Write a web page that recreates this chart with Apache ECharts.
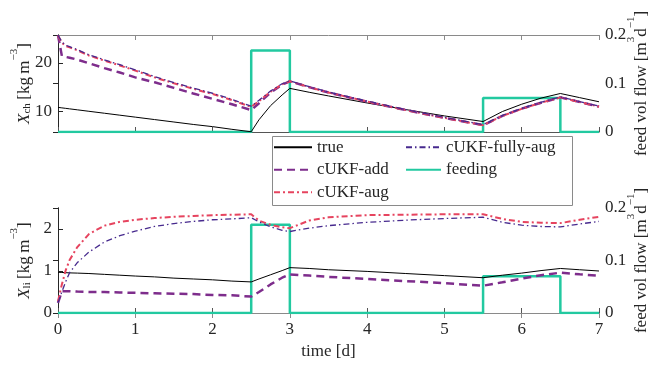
<!DOCTYPE html>
<html>
<head>
<meta charset="utf-8">
<script src="https://cdn.jsdelivr.net/npm/echarts@6/dist/echarts.min.js"></script>
<style>
  html, body { margin: 0; padding: 0; background: #fff; }
  #chart { width: 648px; height: 368px; }
</style>
</head>
<body>
<div id="chart"></div>
<script>
// time grid [d]
const T = [0, 0.05, 0.1, 0.15, 0.25, 0.4, 0.6, 0.8, 1, 1.25, 1.5, 1.75, 2, 2.25, 2.5,
  2.6, 2.75, 2.9, 3, 3.25, 3.5, 4, 4.5, 5, 5.5, 5.75, 6, 6.25, 6.5, 6.75, 7];

// X_ch [kg m^-3]
const chTrue = [10.85, 10.75, 10.65, 10.55, 10.35, 10.05, 9.65, 9.25, 8.85, 8.35, 7.85, 7.35, 6.9, 6.35, 5.85,
  8.3, 11.2, 13.4, 14.75, 13.95, 13.2, 11.75, 10.4, 9.1, 7.95, 10.0, 11.5, 12.75, 13.7, 12.85, 12.0];
const chAdd = [25.65, 21.4, 21.2, 21.05, 20.65, 19.9, 18.9, 18.0, 17.0, 16.0, 14.85, 13.7, 12.6, 11.5, 10.3,
  11.7, 13.9, 15.5, 16.2, 15.0, 13.9, 12.0, 10.3, 8.7, 7.2, 9.1, 10.6, 11.8, 12.9, 11.95, 11.0];
const chAug = [25.6, 24.1, 23.45, 23.15, 22.55, 21.5, 20.45, 19.45, 18.4, 17.0, 15.8, 14.65, 13.6, 12.35, 10.95,
  12.15, 14.05, 15.6, 16.2, 15.0, 13.9, 12.05, 10.3, 8.7, 7.2, 9.1, 10.55, 11.8, 12.9, 11.95, 11.0];
const chFull = [25.65, 24.3, 23.6, 23.3, 22.7, 21.65, 20.6, 19.6, 18.55, 17.15, 15.95, 14.8, 13.75, 12.5, 11.1,
  12.3, 14.2, 15.7, 16.3, 15.1, 14.0, 12.15, 10.4, 8.8, 7.3, 9.2, 10.65, 11.9, 13.0, 12.05, 11.1];

// X_li [kg m^-3]
const liTrue = [0.97, 0.965, 0.96, 0.955, 0.95, 0.94, 0.92, 0.9, 0.88, 0.86, 0.83, 0.81, 0.79, 0.76, 0.74,
  0.81, 0.91, 1.01, 1.08, 1.06, 1.03, 0.99, 0.94, 0.89, 0.84, 0.9, 0.95, 1.01, 1.06, 1.03, 1.0];
const liAdd = [0.24, 0.52, 0.52, 0.52, 0.51, 0.5, 0.5, 0.49, 0.48, 0.47, 0.46, 0.45, 0.43, 0.42, 0.39,
  0.5, 0.68, 0.84, 0.92, 0.89, 0.86, 0.81, 0.76, 0.71, 0.65, 0.73, 0.82, 0.9, 0.96, 0.92, 0.89];
const liAug = [0.28, 0.68, 1.02, 1.26, 1.57, 1.88, 2.08, 2.17, 2.22, 2.26, 2.29, 2.31, 2.33, 2.34, 2.35,
  2.2, 2.1, 2.04, 2.02, 2.2, 2.28, 2.33, 2.34, 2.35, 2.35, 2.24, 2.17, 2.15, 2.14, 2.22, 2.29];
const liFull = [0.25, 0.5, 0.75, 0.96, 1.2, 1.45, 1.69, 1.84, 1.95, 2.06, 2.13, 2.18, 2.22, 2.24, 2.27,
  2.17, 2.05, 1.97, 1.94, 2.02, 2.08, 2.16, 2.21, 2.25, 2.28, 2.16, 2.09, 2.06, 2.05, 2.12, 2.18];

// feeding [m^3 d^-1]
const feedT = [0, 2.5, 2.5, 3, 3, 5.5, 5.5, 6.5, 6.5, 7];
const feedQ = [0, 0, 0.168, 0.168, 0, 0, 0.07, 0.07, 0, 0];

const chTicks = [10, 20];
const liTicks = [0, 1, 2];
const feedTicks = [0, 0.1, 0.2];

const FONT = 'Liberation Serif';
const TXT = '#262626';
const C = {
  true: '#000000',
  add: '#7e2d8c',
  aug: '#e6445f',
  full: '#472a8e',
  feed: '#22c9a0'
};

const pairs = (xs, ys) => xs.map((x, i) => [x, ys[i]]);

const rich = {
  i: { fontFamily: FONT, fontSize: 17, fontStyle: 'italic', color: TXT, lineHeight: 24, verticalAlign: 'bottom' },
  n: { fontFamily: FONT, fontSize: 17, color: TXT, lineHeight: 24, verticalAlign: 'bottom' },
  sub: { fontFamily: FONT, fontSize: 11, color: TXT, lineHeight: 13, verticalAlign: 'bottom' },
  sup: { fontFamily: FONT, fontSize: 11, color: TXT, lineHeight: 15, verticalAlign: 'top' }
};
const feedName = '{n|feed vol flow [m}{sup|3}{n|d}{sup|\u22121}{n|]}';

function xAx(grid, labels) {
  return {
    type: 'value', gridIndex: grid, min: 0, max: 7, interval: 1, position: 'bottom',
    axisLine: { lineStyle: { color: '#555', width: 1 } },
    axisTick: { inside: true, length: 5, lineStyle: { color: '#555' } },
    axisLabel: { show: labels, color: TXT, fontFamily: FONT, fontSize: 17, margin: 8 },
    splitLine: { show: false },
    name: labels ? 'time [d]' : '', nameLocation: 'middle', nameGap: 30,
    nameTextStyle: { color: TXT, fontFamily: FONT, fontSize: 17 }
  };
}
function xTop(grid) {
  return {
    type: 'value', gridIndex: grid, min: 0, max: 7, interval: 1, position: 'top',
    axisLine: { lineStyle: { color: '#8a8a8a', width: 1 } },
    axisTick: { inside: true, length: 5, lineStyle: { color: '#8a8a8a' } },
    axisLabel: { show: false }, splitLine: { show: false }
  };
}
function yAx(grid, pos, min, max, ticks, name, gap) {
  return {
    type: 'value', gridIndex: grid, position: pos, min: min, max: max,
    axisLine: { show: true, lineStyle: { color: TXT, width: 1 } },
    axisTick: { show: true, inside: true, length: 5, customValues: ticks, lineStyle: { color: TXT } },
    axisLabel: { color: TXT, fontFamily: FONT, fontSize: 17, margin: 6, customValues: ticks },
    splitLine: { show: false },
    name: name, nameLocation: 'middle', nameGap: gap, nameRotate: 90, nameMoveOverlap: false,
    nameTextStyle: { rich: rich, align: 'center', verticalAlign: 'middle' }
  };
}

function line(name, x, y, xi, yi, color, width, type, z) {
  return {
    name: name, type: 'line', xAxisIndex: xi, yAxisIndex: yi,
    data: pairs(x, y), symbol: 'none', showSymbol: false, z: z,
    lineStyle: { color: color, width: width, type: type },
    itemStyle: { color: color }
  };
}

const legendBase = {
  orient: 'vertical', top: 138, padding: 0, itemGap: 4, itemHeight: 12,
  itemStyle: { color: 'rgba(0,0,0,0)', borderWidth: 0, opacity: 0 },
  textStyle: { fontFamily: FONT, fontSize: 17, color: TXT, lineHeight: 18.5 }
};

const chart = echarts.init(document.getElementById('chart'), null, { renderer: 'canvas' });
chart.setOption({
  animation: false,
  grid: [
    { left: 58, right: 49, top: 35, height: 97, outerBoundsMode: 'none' },
    { left: 58, right: 49, top: 208, height: 105, outerBoundsMode: 'none' }
  ],
  xAxis: [xAx(0, false), xTop(0), xAx(1, true), xTop(1)],
  yAxis: [
    yAx(0, 'left', 5.8, 25.7, chTicks, '{i|X}{sub|ch}{n|\u2009[kg\u2009m}{sup|\u22123}{n|]}', 37),
    yAx(0, 'right', 0, 0.2, feedTicks, feedName, 39),
    yAx(1, 'left', 0, 2.5, liTicks, '{i|X}{sub|li}{n|\u2009[kg\u2009m}{sup|\u22123}{n|]}', 37),
    yAx(1, 'right', 0, 0.2, feedTicks, feedName, 39)
  ],
  legend: [
    Object.assign({}, legendBase, {
      left: 273, itemWidth: 38,
      data: ['true', 'cUKF-add', 'cUKF-aug']
    }),
    Object.assign({}, legendBase, {
      left: 405, itemWidth: 35,
      data: ['cUKF-fully-aug', 'feeding']
    })
  ],
  graphic: [{
    type: 'rect', left: 272, top: 136, z: 0,
    shape: { width: 300, height: 69 },
    style: { fill: '#fff', stroke: '#8a8a8a', lineWidth: 1 }
  }],
  series: [
    line('feeding', feedT, feedQ, 0, 1, C.feed, 2.5, 'solid', 1),
    line('true', T, chTrue, 0, 0, C.true, 1, 'solid', 3),
    line('cUKF-add', T, chAdd, 0, 0, C.add, 2.5, [8, 5], 4),
    line('cUKF-aug', T, chAug, 0, 0, C.aug, 2, [6, 3, 2, 3], 5),
    line('cUKF-fully-aug', T, chFull, 0, 0, C.full, 1.3, [6, 3, 1.5, 3], 6),
    line('feeding', feedT, feedQ, 2, 3, C.feed, 2.5, 'solid', 1),
    line('true', T, liTrue, 2, 2, C.true, 1, 'solid', 3),
    line('cUKF-add', T, liAdd, 2, 2, C.add, 2.5, [8, 5], 4),
    line('cUKF-aug', T, liAug, 2, 2, C.aug, 2, [6, 3, 2, 3], 5),
    line('cUKF-fully-aug', T, liFull, 2, 2, C.full, 1.3, [6, 3, 1.5, 3], 6)
  ]
});
</script>
</body>
</html>
